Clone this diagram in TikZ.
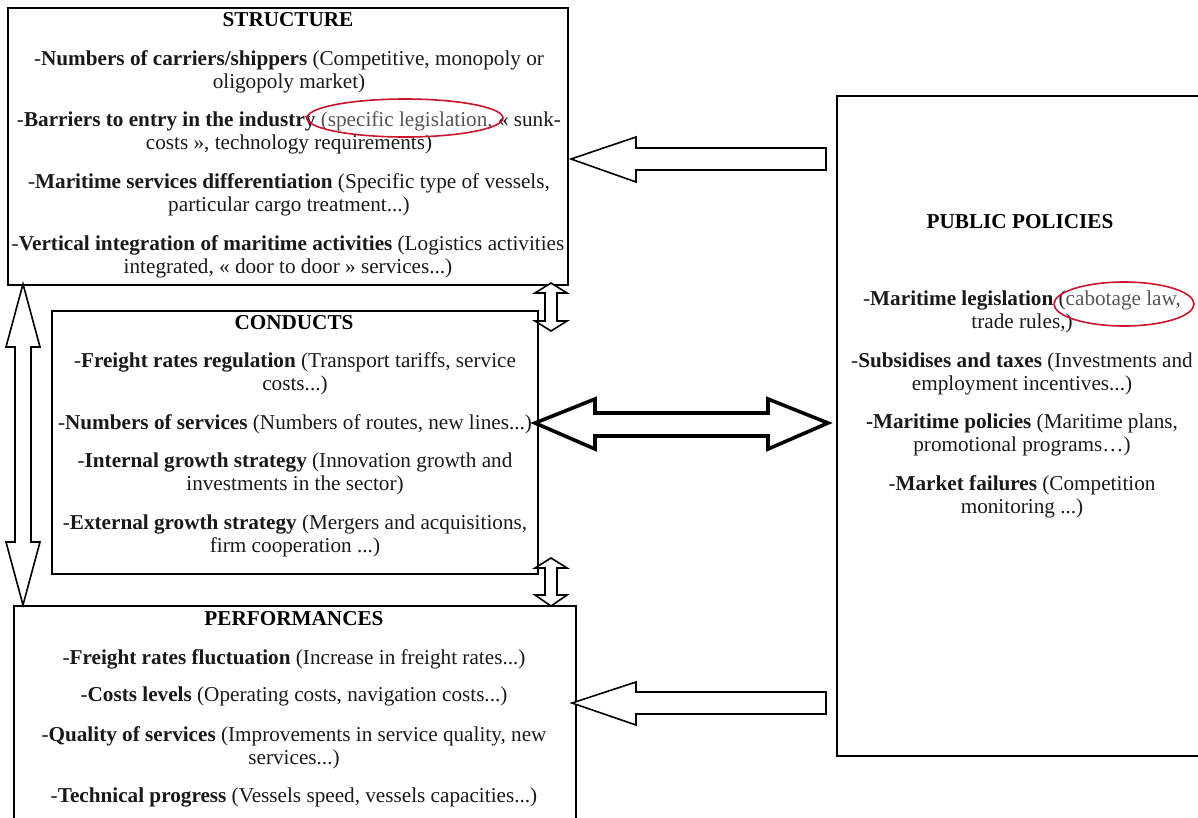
\documentclass[tikz,border=0pt]{standalone}
\usepackage{fontspec}
\setmainfont{Liberation Serif}
\definecolor{txtgray}{RGB}{85,85,85}
\definecolor{ellred}{RGB}{200,20,45}
\begin{document}
\begin{tikzpicture}[x=1pt,y=-1pt,
  box/.style={draw, line width=2pt, inner sep=0pt, anchor=north west},
  item/.style={font=\fontsize{21.2}{23.2}\selectfont, align=center, inner sep=0pt, text=black!90},
  ttl/.style={font=\fontsize{21.2}{23.2}\selectfont\bfseries, align=center, inner sep=0pt},
  blockarrow/.style={draw, line width=1.6pt, fill=white, line join=miter},
  thickarrow/.style={draw, line width=3.6pt, fill=white, line join=miter},
  ring/.style={draw=ellred, line width=1.6pt}]
\useasboundingbox (0,0) rectangle (1198,817);
\clip (0,0) rectangle (1198,817);

% boxes
\node[box, minimum width=560pt, minimum height=277pt] (structure) at (7,7) {};
\node[box, minimum width=486pt, minimum height=263pt] (conducts) at (51,310) {};
\node[box, minimum width=562pt, minimum height=240pt] (perf) at (13,605) {};
\node[box, minimum width=380pt, minimum height=660pt] (policies) at (836,95) {};

% STRUCTURE
\node[ttl] (s0) at (288,20) {STRUCTURE};
\node[item] (s1) at (289,72) {-\textbf{Numbers of carriers/shippers} (Competitive, monopoly or\\oligopoly market)};
\node[item] (s2) at (289,133) {-\textbf{Barriers to entry in the industry} \textcolor{txtgray}{(specific legislation,} « sunk-\\costs », technology requirements)};
\node[item] (s3) at (289,195) {-\textbf{Maritime services differentiation} (Specific type of vessels,\\particular cargo treatment...)};
\node[item] (s4) at (288,256.5) {-\textbf{Vertical integration of maritime activities} (Logistics activities\\integrated, « door to door » services...)};

% CONDUCTS
\node[ttl] (c0) at (294,323) {CONDUCTS};
\node[item] (c1) at (295,374) {-\textbf{Freight rates regulation} (Transport tariffs, service\\costs...)};
\node[item] (c2) at (295,424) {-\textbf{Numbers of services} (Numbers of routes, new lines...)};
\node[item] (c3) at (295,474) {-\textbf{Internal growth strategy} (Innovation growth and\\investments in the sector)};
\node[item] (c4) at (295,536) {-\textbf{External growth strategy} (Mergers and acquisitions,\\firm cooperation ...)};

% PERFORMANCES
\node[ttl] (p0) at (294,619) {PERFORMANCES};
\node[item] (p1) at (294,659) {-\textbf{Freight rates fluctuation} (Increase in freight rates...)};
\node[item] (p2) at (294,696) {-\textbf{Costs levels} (Operating costs, navigation costs...)};
\node[item] (p3) at (294,747.5) {-\textbf{Quality of services} (Improvements in service quality, new\\services...)};
\node[item] (p4) at (294,797) {-\textbf{Technical progress} (Vessels speed, vessels capacities...)};

% PUBLIC POLICIES
\node[ttl] (g0) at (1020,222) {PUBLIC POLICIES};
\node[item] (g1) at (1022,312) {-\textbf{Maritime legislation} (\textcolor{txtgray}{cabotage law,}\\trade rules,)};
\node[item] (g2) at (1022,374) {-\textbf{Subsidises and taxes} (Investments and\\employment incentives...)};
\node[item] (g3) at (1022,435) {\textbf{-Maritime policies} (Maritime plans,\\promotional programs…)};
\node[item] (g4) at (1022,496.5) {-\textbf{Market failures} (Competition\\monitoring ...)};

% red rings
\draw[ring] (405,118) ellipse [x radius=98pt, y radius=19pt];
\draw[ring] (1124,304) ellipse [x radius=70pt, y radius=22pt];

% policies -> structure
\draw[blockarrow] (571,159) -- (636,137) -- (636,148) -- (826,148) -- (826,170) -- (636,170) -- (636,182) -- cycle;
% policies -> performances
\draw[blockarrow] (572,703) -- (636,682) -- (636,692) -- (826,692) -- (826,714) -- (636,714) -- (636,725) -- cycle;
% conducts <-> policies
\draw[thickarrow] (535,423) -- (595,399) -- (595,413) -- (768,413) -- (768,399) -- (828,423) -- (768,449) -- (768,436) -- (595,436) -- (595,449) -- cycle;
% structure <-> performances (left)
\draw[blockarrow] (23,284) -- (40,347) -- (31,347) -- (31,542) -- (40,542) -- (23,605) -- (6,542) -- (15,542) -- (15,347) -- (6,347) -- cycle;
% structure <-> conducts
\draw[blockarrow] (551,283) -- (567,293) -- (557,293) -- (557,321) -- (567,321) -- (551,331) -- (535,321) -- (545,321) -- (545,293) -- (535,293) -- cycle;
% conducts <-> performances
\draw[blockarrow] (551,558) -- (567,568) -- (557,568) -- (557,595) -- (567,595) -- (551,606) -- (535,595) -- (545,595) -- (545,568) -- (535,568) -- cycle;
\end{tikzpicture}
\end{document}
